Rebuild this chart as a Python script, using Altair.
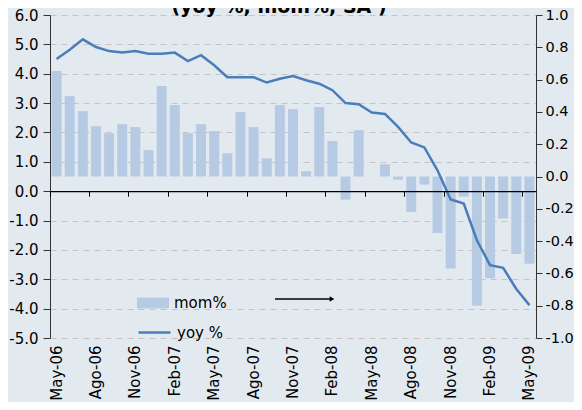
import altair as alt
import pandas as pd

months = ["May-06", "Jun-06", "Jul-06", "Ago-06", "Sep-06", "Oct-06", "Nov-06", "Dic-06",
          "Ene-07", "Feb-07", "Mar-07", "Abr-07", "May-07", "Jun-07", "Jul-07", "Ago-07",
          "Sep-07", "Oct-07", "Nov-07", "Dic-07", "Ene-08", "Feb-08", "Mar-08", "Abr-08",
          "May-08", "Jun-08", "Jul-08", "Ago-08", "Sep-08", "Oct-08", "Nov-08", "Dic-08",
          "Ene-09", "Feb-09", "Mar-09", "Abr-09", "May-09"]

yoy = [4.50, 4.82, 5.17, 4.91, 4.77, 4.72, 4.77, 4.68, 4.68, 4.72, 4.43, 4.63, 4.29,
       3.88, 3.88, 3.88, 3.70, 3.83, 3.92, 3.78, 3.66, 3.44, 3.00, 2.96, 2.68, 2.63,
       2.19, 1.66, 1.49, 0.71, -0.28, -0.42, -1.67, -2.52, -2.61, -3.33, -3.88]

mom = [0.653, 0.498, 0.405, 0.312, 0.268, 0.324, 0.306, 0.163, 0.560, 0.442, 0.268,
       0.324, 0.281, 0.144, 0.399, 0.306, 0.113, 0.442, 0.417, 0.033, 0.430, 0.220,
       -0.143, 0.287, 0.0, 0.076, -0.020, -0.220, -0.050, -0.350, -0.570, -0.125,
       -0.800, -0.630, -0.260, -0.480, -0.540]

label_months = ["May-06", "Ago-06", "Nov-06", "Feb-07", "May-07", "Ago-07", "Nov-07",
                "Feb-08", "May-08", "Ago-08", "Nov-08", "Feb-09", "May-09"]
left_ticks = [-5, -4, -3, -2, -1, 0, 1, 2, 3, 4, 5, 6]
right_ticks = [-1.0, -0.8, -0.6, -0.4, -0.2, 0.0, 0.2, 0.4, 0.6, 0.8, 1.0]
title_text = ["(yoy %, mom%, SA )"]

FONT = "DejaVu Sans"
BG = "#E2EAF0"
BAR = "#B7CAE4"
LINE = "#4A7EBB"
AX = "#333333"

W, H = 486, 323

df = pd.DataFrame({"month": months, "yoy": yoy, "mom": mom,
                   "s_bar": "mom%", "s_line": "yoy %"})

lab_expr = "(datum.value < 0 ? '-' : '') + format(abs(datum.value), '.1f')"

xscale = alt.Scale(paddingInner=0, paddingOuter=0)

bars = alt.Chart(df).mark_bar(width={"band": 0.76}).encode(
    x=alt.X("month:N", sort=months, scale=xscale, title=None,
            axis=alt.Axis(orient="bottom", values=label_months, labelAngle=-90,
                          ticks=False, domain=False, grid=False, labelPadding=7,
                          labelFont=FONT, labelFontSize=15, labelColor="#000")),
    y=alt.Y("mom:Q", scale=alt.Scale(domain=[-1, 1], nice=False), title=None,
            axis=alt.Axis(orient="right", values=right_ticks, labelExpr=lab_expr,
                          grid=False, tickSize=6, tickColor=AX, domainColor=AX,
                          labelPadding=3, labelFont=FONT, labelFontSize=14.5,
                          labelColor="#000", labelAlign="left")),
    color=alt.Color("s_bar:N", scale=alt.Scale(domain=["mom%"], range=[BAR]),
                    legend=alt.Legend(title=None, orient="none", legendX=87, legendY=272,
                                      symbolType="M-1,-0.34H1V0.34H-1Z", symbolSize=1024,
                                      symbolStrokeWidth=0, labelFont=FONT, labelFontSize=15,
                                      labelOffset=5, padding=0, labelColor="#000")),
)

line = alt.Chart(df).mark_line(strokeWidth=2.5).encode(
    x=alt.X("month:N", sort=months, scale=xscale, title=None,
            axis=alt.Axis(orient="bottom", offset=-146.8, values=label_months,
                          bandPosition=0, labels=False, ticks=True, tickSize=5,
                          tickColor="#000", domain=True, domainColor="#000",
                          domainWidth=1.2, grid=False, zindex=1)),
    y=alt.Y("yoy:Q", scale=alt.Scale(domain=[-5, 6], nice=False, zero=False), title=None,
            axis=alt.Axis(orient="left", values=left_ticks, labelExpr=lab_expr,
                          grid=True, gridDash=[6, 5], gridColor="#C4C4C4",
                          tickSize=7, tickColor=AX, domainColor=AX, labelPadding=5,
                          labelFont=FONT, labelFontSize=15, labelColor="#000")),
    stroke=alt.Stroke("s_line:N", scale=alt.Scale(domain=["yoy %"], range=[LINE]),
                      legend=alt.Legend(title=None, orient="none", legendX=87, legendY=300,
                                        symbolType="stroke", symbolSize=1024,
                                        symbolStrokeWidth=2.5, labelFont=FONT,
                                        labelFontSize=15, labelOffset=5, padding=0,
                                        labelColor="#000")),
)

deco = pd.DataFrame({"t": title_text})

arrow_line = alt.Chart(deco).mark_rule(color="#000", strokeWidth=1.5).encode(
    x=alt.value(225), x2=alt.value(281), y=alt.value(284))
arrow_head = alt.Chart(deco).mark_point(shape="triangle-right", filled=True, color="#000",
                                        size=30, opacity=1).encode(
    x=alt.value(282), y=alt.value(284))

title = alt.Chart(deco).mark_text(font=FONT, fontSize=19, fontWeight="bold", align="center",
                                  baseline="alphabetic", color="#000").encode(
    x=alt.value(229), y=alt.value(-2), text="t:N")

chart = alt.layer(bars, line, arrow_line, arrow_head, title).resolve_scale(
    y="independent", color="independent"
).resolve_axis(
    x="independent", y="independent"
).properties(
    width=W, height=H, background=BG,
    autosize=alt.AutoSizeParams(type="none"),
    padding={"left": 42, "top": 7, "right": 566 - 42 - W, "bottom": 394 - 7 - H},
).configure_view(stroke="transparent")

chart.save("out.html", embed_options={"renderer": "svg", "actions": False})
